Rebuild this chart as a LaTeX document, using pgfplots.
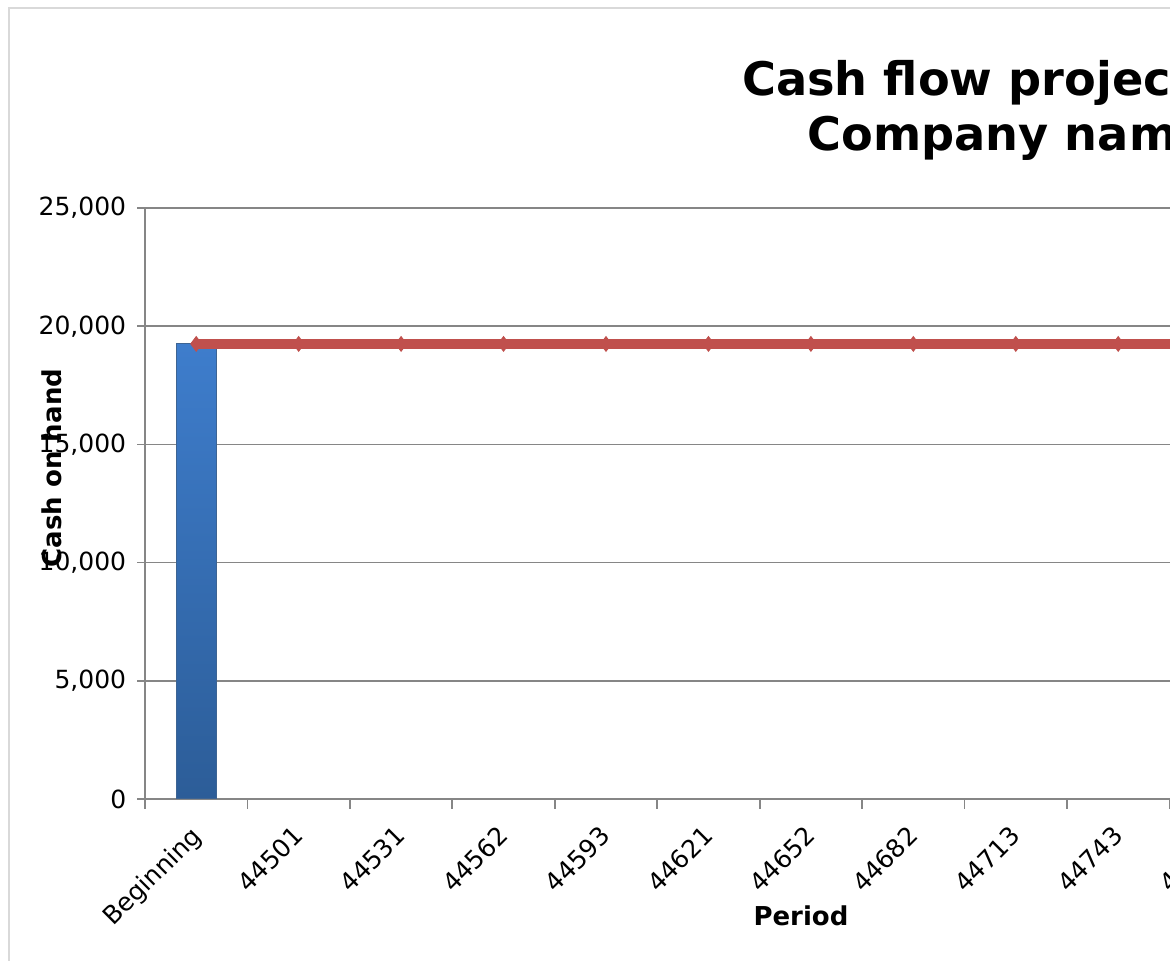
\documentclass[border=0pt]{standalone}
\usepackage{fontspec}
\setmainfont{DejaVu Sans}
\usepackage{pgfplots}
\pgfplotsset{compat=1.18}
\definecolor{gridgray}{RGB}{134,134,134}
\definecolor{linered}{RGB}{192,80,77}
\definecolor{bartop}{RGB}{62,125,204}
\definecolor{barbot}{RGB}{44,93,152}
\definecolor{bordergray}{RGB}{217,217,217}
\begin{document}
\begin{tikzpicture}
\useasboundingbox (0,0) rectangle (468pt,384.4pt);
\clip (0,0) rectangle (468pt,384.4pt);
\fill[white] (0,0) rectangle (468pt,384.4pt);
\draw[bordergray, line width=0.8pt] (3.4pt,-10pt) -- (3.4pt,381pt) -- (900pt,381pt);
\begin{axis}[
  at={(58pt,64.8pt)}, anchor=south west,
  scale only axis, width=532.7pt, height=236.4pt,
  xmin=-0.5, xmax=12.5, ymin=0, ymax=25000,
  xtick={0,...,12},
  xticklabels={Beginning,44501,44531,44562,44593,44621,44652,44682,44713,44743,44774,44805,44835},
  minor xtick={-0.5,0.5,...,12.5},
  ytick={0,5000,...,25000},
  ymajorgrids, grid style={gridgray, line width=0.7pt},
  axis line style={gridgray, line width=0.7pt},
  tick style={gridgray, line width=0.7pt},
  major x tick style={draw=none},
  tick align=outside, xtick pos=bottom, ytick pos=left,
  major tick length=3.2pt, minor tick length=4pt,
  /pgf/number format/assume math mode=true,
  /pgf/number format/1000 sep={,},
  scaled y ticks=false,
  ticklabel style={font=\fontsize{10}{12}\selectfont},
  yticklabel style={xshift=-0.8pt},
  xticklabel style={rotate=45, anchor=north east, xshift=-3.4pt, yshift=0.57pt},
  clip=false,
]
\addplot[ybar, bar width=16pt, bar shift=0pt, draw=barbot!80!gray, line width=0.4pt,
  top color=bartop, bottom color=barbot] coordinates {(0,19250)};
\addplot[linered, line width=4.2pt, mark=diamond*, mark size=2.9pt,
  mark options={solid, line width=0.4pt}] coordinates {
  (0,19250) (1,19250) (2,19250) (3,19250) (4,19250) (5,19250) (6,19250)
  (7,19250) (8,19250) (9,19250) (10,19250) (11,19250) (12,19250)};
\end{axis}
\node[font=\fontsize{18.5}{22}\selectfont\bfseries, anchor=base] at (403.2pt,346pt) {Cash flow projection};
\node[font=\fontsize{18.5}{22}\selectfont\bfseries, anchor=base] at (403.2pt,324pt) {Company name};
\node[font=\fontsize{10.4}{12}\selectfont\bfseries, anchor=base] at (320.4pt,14pt) {Period};
\node[font=\fontsize{10.4}{12}\selectfont\bfseries, rotate=90, anchor=base] at (24.4pt,197.2pt) {Cash on hand};
\end{tikzpicture}
\end{document}
